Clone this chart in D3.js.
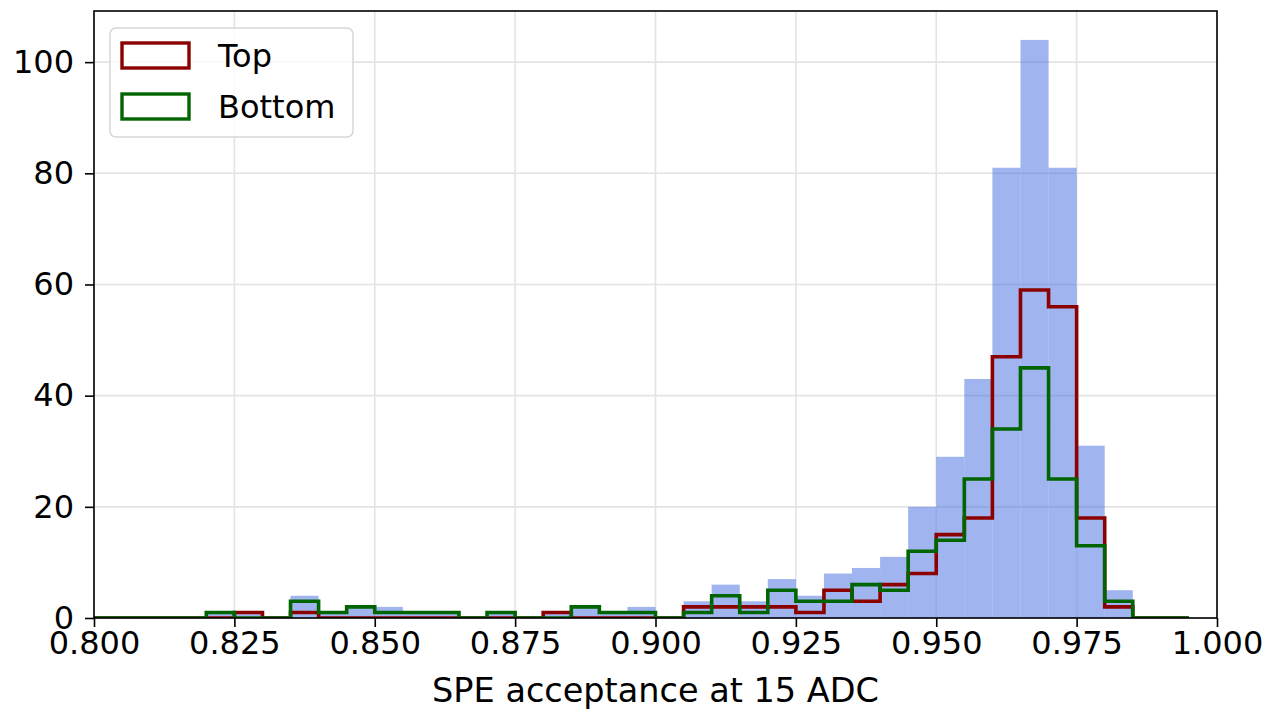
<!DOCTYPE html>
<html>
<head>
<meta charset="utf-8">
<script src="https://cdn.jsdelivr.net/npm/d3@7"></script>
<style>
  body { margin: 0; background: white; }
  svg { display: block; }
</style>
</head>
<body>
<div id="chart"></div>
<script>
// histogram bins: left edges, width 0.005
const binStart = 0.800;
const binWidth = 0.005;
const allCounts = [0, 0, 0, 0, 1, 1, 0, 4, 1, 2, 2, 1, 1, 0, 1, 0, 1, 2, 1, 2,
  0, 3, 6, 3, 7, 4, 8, 9, 11, 20, 29, 43, 81, 104, 81, 31, 5, 0, 0];
const topCounts = [0, 0, 0, 0, 0, 1, 0, 1, 0, 0, 0, 0, 0, 0, 0, 0, 1, 0, 0, 0,
  0, 2, 2, 2, 2, 1, 5, 3, 6, 8, 15, 18, 47, 59, 56, 18, 2, 0, 0];
const bottomCounts = [0, 0, 0, 0, 1, 0, 0, 3, 1, 2, 1, 1, 1, 0, 1, 0, 0, 2, 1, 1,
  0, 1, 4, 1, 5, 3, 3, 6, 5, 12, 14, 25, 34, 45, 25, 13, 3, 0, 0];
const xTicks = [0.800, 0.825, 0.850, 0.875, 0.900, 0.925, 0.950, 0.975, 1.000];
const yTicks = [0, 20, 40, 60, 80, 100];
const legendLabels = ['Top', 'Bottom'];

const W = 1268, H = 711;
const margin = { left: 94, right: 51, top: 11, bottom: 93 };
const iw = W - margin.left - margin.right,
  ih = H - margin.top - margin.bottom;
const FONT = 'DejaVu Sans, sans-serif';
const FS = 32;

const x = d3.scaleLinear().domain([0.8, 1.0]).range([0, iw]);
const y = d3.scaleLinear().domain([0, 109.2]).range([ih, 0]);

const svg = d3.select('#chart')
  .append('svg')
  .attr('width', W)
  .attr('height', H);

svg.append('defs').append('clipPath')
  .attr('id', 'plotclip')
  .append('rect')
  .attr('width', iw)
  .attr('height', ih);

const g = svg.append('g')
  .attr('transform', `translate(${margin.left},${margin.top})`);

// grid
const grid = g.append('g')
  .attr('stroke', '#e3e3e3')
  .attr('stroke-width', 1.6);
grid.selectAll('line.gx')
  .data(xTicks)
  .join('line')
  .attr('x1', d => x(d)).attr('x2', d => x(d))
  .attr('y1', 0).attr('y2', ih);
grid.selectAll('line.gy')
  .data(yTicks)
  .join('line')
  .attr('class', 'gy')
  .attr('x1', 0).attr('x2', iw)
  .attr('y1', d => y(d)).attr('y2', d => y(d));

const plot = g.append('g').attr('clip-path', 'url(#plotclip)');

const bins = allCounts.map((c, i) => ({ x0: binStart + i * binWidth, count: c }));

plot.append('g')
  .selectAll('rect')
  .data(bins.filter(b => b.count > 0))
  .join('rect')
  .attr('x', d => x(d.x0))
  .attr('width', d => x(d.x0 + binWidth) - x(d.x0))
  .attr('y', d => y(d.count))
  .attr('height', d => y(0) - y(d.count))
  .attr('fill', '#4169e1')
  .attr('fill-opacity', 0.5);

function stepPoints(counts) {
  let pts = [[binStart, 0]];
  counts.forEach((c, i) => {
    pts.push([binStart + i * binWidth, c]);
    pts.push([binStart + (i + 1) * binWidth, c]);
  });
  pts.push([binStart + counts.length * binWidth, 0]);
  return pts;
}

const line = d3.line()
  .x(d => x(d[0]))
  .y(d => y(d[1]));

const series = [
  { name: legendLabels[0], counts: topCounts, color: '#8b0000' },
  { name: legendLabels[1], counts: bottomCounts, color: '#006400' }
];

plot.selectAll('path.step')
  .data(series)
  .join('path')
  .attr('class', 'step')
  .attr('d', d => line(stepPoints(d.counts)))
  .attr('fill', 'none')
  .attr('stroke', d => d.color)
  .attr('stroke-width', 3.6)
  .attr('stroke-linejoin', 'miter');

// axes
const xAxis = g.append('g')
  .attr('transform', `translate(0,${ih})`)
  .call(d3.axisBottom(x).tickValues(xTicks).tickFormat(d3.format('.3f'))
    .tickSize(9).tickPadding(4).tickSizeOuter(0));
const yAxis = g.append('g')
  .call(d3.axisLeft(y).tickValues(yTicks).tickSize(9).tickPadding(11).tickSizeOuter(0));

[xAxis, yAxis].forEach(a => {
  a.select('.domain').remove();
  a.selectAll('line').attr('stroke', '#000').attr('stroke-width', 1.6);
  a.selectAll('text')
    .attr('font-family', FONT)
    .attr('font-size', FS)
    .attr('fill', '#000');
});

// frame
g.append('rect')
  .attr('width', iw)
  .attr('height', ih)
  .attr('fill', 'none')
  .attr('stroke', '#000')
  .attr('stroke-width', 1.6);

g.append('text')
  .attr('x', iw / 2)
  .attr('y', 702 - margin.top)
  .attr('text-anchor', 'middle')
  .attr('font-family', FONT)
  .attr('font-size', 33.5)
  .attr('fill', '#000')
  .text('SPE acceptance at 15 ADC');

// legend
const leg = svg.append('g');
leg.append('rect')
  .attr('x', 110).attr('y', 28)
  .attr('width', 243).attr('height', 109)
  .attr('rx', 6)
  .attr('fill', 'white')
  .attr('fill-opacity', 0.8)
  .attr('stroke', '#d6d6d6')
  .attr('stroke-width', 1.5);

const item = leg.selectAll('g.item')
  .data(series)
  .join('g')
  .attr('class', 'item')
  .attr('transform', (d, i) => `translate(0,${i * 51})`);
item.append('rect')
  .attr('x', 122).attr('y', 43)
  .attr('width', 67).attr('height', 25)
  .attr('fill', 'none')
  .attr('stroke', d => d.color)
  .attr('stroke-width', 3.4);
item.append('text')
  .attr('x', 218).attr('y', 67)
  .attr('font-family', FONT)
  .attr('font-size', FS)
  .attr('fill', '#000')
  .text(d => d.name);
</script>
</body>
</html>
